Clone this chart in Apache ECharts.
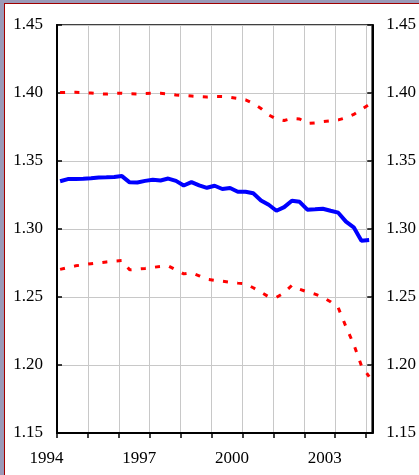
<!DOCTYPE html>
<html>
<head>
<meta charset="utf-8">
<script src="https://cdn.jsdelivr.net/npm/echarts@6/dist/echarts.min.js"></script>
<style>
  html, body { margin: 0; padding: 0; background: #9a9ab8; }
  .panel {
    position: absolute; left: 4px; top: 3px; right: 0; bottom: 0;
    background: #fff;
    border-left: 1px solid #a00000;
    border-top: 1px solid #a00000;
  }
  #chart { position: absolute; left: 0; top: 0; width: 419px; height: 475px; }
</style>
</head>
<body>
<div class="panel"></div>
<div id="chart"></div>
<script>
// quarterly observations, 1994Q1 .. 2004Q1
const firstQuarter = 1994.1
const xLabels = [1994, 1997, 2000, 2003]

const central = [
  1.3351, 1.3367, 1.3367, 1.3369, 1.3373, 1.3379, 1.3380, 1.3382, 1.3389,
  1.3343, 1.3342, 1.3354, 1.3362, 1.3357, 1.3371, 1.3354, 1.3320, 1.3345,
  1.3321, 1.3303, 1.3318, 1.3294, 1.3301, 1.3274, 1.3274, 1.3263, 1.3210,
  1.3178, 1.3134, 1.3161, 1.3208, 1.3200, 1.3142, 1.3145, 1.3149, 1.3134,
  1.3120, 1.3054, 1.3012, 1.2914, 1.2919
]
const upper = [
  1.4003, 1.4004, 1.4005, 1.4003, 1.4000, 1.3995, 1.3992, 1.3997, 1.3999,
  1.3994, 1.3993, 1.3997, 1.3998, 1.3998, 1.3993, 1.3986, 1.3982, 1.3978,
  1.3974, 1.3971, 1.3975, 1.3974, 1.3968, 1.3960, 1.3950, 1.3923, 1.3886,
  1.3839, 1.3809, 1.3798, 1.3813, 1.3809, 1.3776, 1.3780, 1.3789, 1.3795,
  1.3802, 1.3818, 1.3842, 1.3879, 1.3916
]
const lower = [
  1.2703, 1.2716, 1.2729, 1.2737, 1.2745, 1.2751, 1.2758, 1.2764, 1.2768,
  1.2700, 1.2705, 1.2710, 1.2718, 1.2724, 1.2729, 1.2700, 1.2670, 1.2678,
  1.2656, 1.2631, 1.2623, 1.2616, 1.2608, 1.2602, 1.2597, 1.2568, 1.2535,
  1.2501, 1.2498, 1.2531, 1.2586, 1.2557, 1.2538, 1.2521, 1.2498, 1.2465,
  1.2421, 1.2281, 1.2152, 1.1994, 1.1914
]

const toPoints = arr => arr.map((v, i) => [firstQuarter + i * 0.25, v])

const chart = echarts.init(document.getElementById('chart'))
const font = 'Liberation Serif, Times New Roman, serif'
const yAxisBase = {
  type: 'value',
  min: 1.15,
  max: 1.45,
  interval: 0.05,
  axisLine: { show: true, lineStyle: { color: '#000', width: 2 } },
  axisTick: { show: true, inside: true, length: 5, lineStyle: { color: '#000', width: 1.5 } },
  axisLabel: {
    margin: 14,
    color: '#000',
    fontFamily: font,
    fontSize: 17,
    formatter: v => v.toFixed(2)
  }
}

chart.setOption({
  animation: false,
  grid: {
    left: 57, right: 46, top: 25, bottom: 42,
    show: true,
    borderColor: '#404040',
    borderWidth: 2
  },
  xAxis: {
    type: 'value',
    min: 1994,
    max: 2004.2,
    interval: 1,
    axisLine: { show: true, lineStyle: { color: '#000', width: 2 } },
    axisTick: { show: true, length: 5, lineStyle: { color: '#000', width: 1.5 } },
    splitLine: { show: true, lineStyle: { color: '#c8c8c8', width: 1 } },
    axisLabel: {
      margin: 17,
      color: '#000',
      fontFamily: font,
      fontSize: 17,
      padding: [0, 21, 0, 0],
      showMaxLabel: false,
      formatter: v => {
        const r = Math.round(v)
        return Math.abs(v - r) < 1e-6 && xLabels.indexOf(r) >= 0 ? String(r) : ''
      }
    }
  },
  yAxis: [
    Object.assign({}, yAxisBase, {
      position: 'left',
      splitLine: { show: true, lineStyle: { color: '#c8c8c8', width: 1 } }
    }),
    Object.assign({}, yAxisBase, {
      position: 'right',
      splitLine: { show: false }
    })
  ],
  series: [
    {
      type: 'line',
      data: toPoints(upper),
      symbol: 'none',
      lineStyle: { color: '#ff0000', width: 3, type: [5, 9.3] }
    },
    {
      type: 'line',
      data: toPoints(lower),
      symbol: 'none',
      lineStyle: { color: '#ff0000', width: 3, type: [5, 9.3] }
    },
    {
      type: 'line',
      data: toPoints(central),
      symbol: 'none',
      lineStyle: { color: '#0000ff', width: 4 }
    }
  ]
})
</script>
</body>
</html>
